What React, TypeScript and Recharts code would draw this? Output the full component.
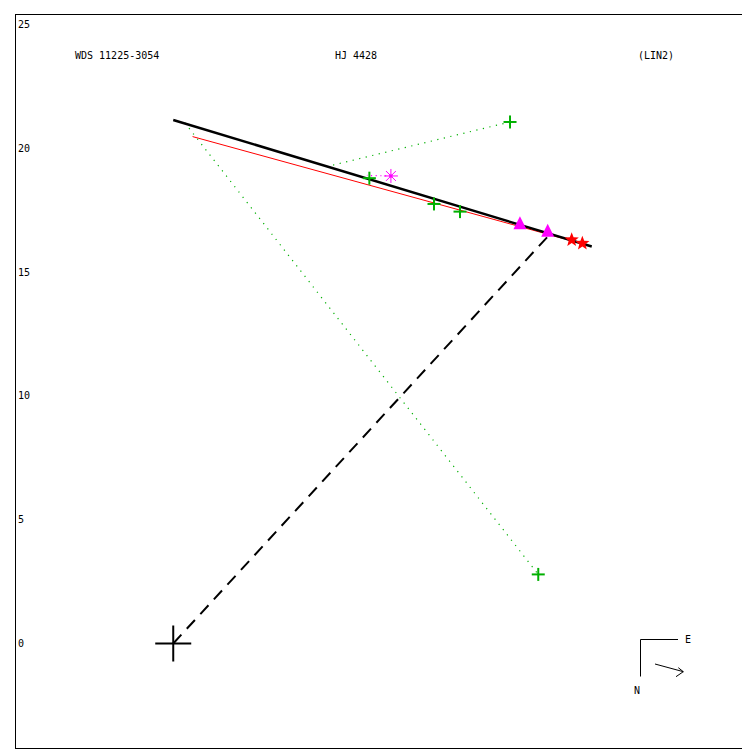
import React from "react";
import {
  ScatterChart,
  Scatter,
  XAxis,
  YAxis,
  ReferenceLine,
} from "recharts";

// ---- data (arcsec units) ----
const xDomain = [-6.39, 23.25];
const yDomain = [-4.26, 25.42];
const yTicks = [0, 5, 10, 15, 20, 25];

const orbitLine = [
  { x: 0.0, y: 21.14 },
  { x: 16.9, y: 16.03 },
];
const fitLine = [
  { x: 0.78, y: 20.47 },
  { x: 16.6, y: 16.12 },
];
const nodeLine = [
  { x: 0.0, y: 0.0 },
  { x: 15.12, y: 16.43 },
];
const residualGreen1 = [
  { x: 0.47, y: 21.02 },
  { x: 14.74, y: 2.79 },
];
const residualGreen2 = [
  { x: 13.6, y: 21.06 },
  { x: 6.33, y: 19.29 },
];
const residualMagenta = [
  { x: 8.79, y: 18.88 },
  { x: 7.82, y: 18.9 },
];

const greenCrosses = [
  { x: 7.92, y: 18.79 },
  { x: 10.53, y: 17.75 },
  { x: 11.58, y: 17.44 },
  { x: 13.6, y: 21.06 },
  { x: 14.74, y: 2.79 },
];
const magentaStars = [{ x: 8.79, y: 18.88 }];
const magentaTriangles = [
  { x: 14.0, y: 16.97 },
  { x: 15.12, y: 16.67 },
];
const redStars = [
  { x: 16.09, y: 16.3 },
  { x: 16.52, y: 16.16 },
];
const primary = [{ x: 0, y: 0 }];

const GREEN = "#00b000";
const MAGENTA = "#ff00ff";
const RED = "#ff0000";
const FONT = "'DejaVu Sans Mono', monospace";

const CrossShape = (props: any) => {
  const { cx, cy } = props;
  const r = 6.5;
  return (
    <g>
      <line x1={cx - r} y1={cy} x2={cx + r} y2={cy} stroke={GREEN} strokeWidth={2} />
      <line x1={cx} y1={cy - r} x2={cx} y2={cy + r} stroke={GREEN} strokeWidth={2} />
    </g>
  );
};

const BigCross = (props: any) => {
  const { cx, cy } = props;
  const r = 18;
  return (
    <g>
      <line x1={cx - r} y1={cy} x2={cx + r} y2={cy} stroke="#000" strokeWidth={2} />
      <line x1={cx} y1={cy - r} x2={cx} y2={cy + r} stroke="#000" strokeWidth={2} />
    </g>
  );
};

const AsteriskShape = (props: any) => {
  const { cx, cy } = props;
  const r = 7;
  const lines = [];
  for (let i = 0; i < 4; i++) {
    const a = (i * Math.PI) / 4;
    lines.push(
      <line
        key={i}
        x1={cx - r * Math.cos(a)}
        y1={cy - r * Math.sin(a)}
        x2={cx + r * Math.cos(a)}
        y2={cy + r * Math.sin(a)}
        stroke={MAGENTA}
        strokeWidth={1}
      />
    );
  }
  return (
    <g>
      {lines}
      <circle cx={cx} cy={cy} r={1.8} fill={MAGENTA} />
    </g>
  );
};

const TriangleShape = (props: any) => {
  const { cx, cy } = props;
  const h = 12;
  const w = 13;
  return (
    <polygon
      points={`${cx},${cy - h / 2 - 1} ${cx - w / 2},${cy + h / 2} ${cx + w / 2},${cy + h / 2}`}
      fill={MAGENTA}
    />
  );
};

const StarShape = (props: any) => {
  const { cx, cy } = props;
  const R = 7.5;
  const r = 3.2;
  const pts: string[] = [];
  for (let i = 0; i < 10; i++) {
    const rad = i % 2 === 0 ? R : r;
    const a = -Math.PI / 2 + (i * Math.PI) / 5;
    pts.push(`${cx + rad * Math.cos(a)},${cy + rad * Math.sin(a)}`);
  }
  return <polygon points={pts.join(" ")} fill={RED} />;
};

const YTick = (props: any) => {
  const { y, payload } = props;
  return (
    <text x={10} y={y} dy="0.35em" textAnchor="start" fontFamily={FONT} fontSize={10} fill="#000">
      {payload.value}
    </text>
  );
};

const seg = (p: { x: number; y: number }[]) =>
  [
    { x: p[0].x, y: p[0].y },
    { x: p[1].x, y: p[1].y },
  ] as any;

export default function App() {
  return (
    <div style={{ position: "relative", width: 742, height: 742 }}>
      <ScatterChart
        width={742}
        height={742}
        margin={{ top: 6, right: 1, bottom: 1, left: 7 }}
      >
        <XAxis type="number" dataKey="x" domain={xDomain} hide allowDataOverflow />
        <YAxis
          type="number"
          dataKey="y"
          domain={yDomain}
          ticks={yTicks}
          mirror
          axisLine={false}
          tickLine={false}
          tick={<YTick />}
          allowDataOverflow
          interval={0}
        />
        <ReferenceLine segment={seg(residualGreen1)} stroke={GREEN} strokeWidth={1.2} strokeDasharray="1.2 5.5" />
        <ReferenceLine segment={seg(residualGreen2)} stroke={GREEN} strokeWidth={1.2} strokeDasharray="1.2 5.5" />
        <ReferenceLine segment={seg(residualMagenta)} stroke={MAGENTA} strokeWidth={1.2} strokeDasharray="1.2 3.5" />
        <ReferenceLine segment={seg(nodeLine)} stroke="#000" strokeWidth={2} strokeDasharray="12 8" />
        <ReferenceLine segment={seg(fitLine)} stroke={RED} strokeWidth={1} />
        <ReferenceLine segment={seg(orbitLine)} stroke="#000" strokeWidth={2.5} />
        <Scatter data={greenCrosses} shape={<CrossShape />} isAnimationActive={false} />
        <Scatter data={magentaStars} shape={<AsteriskShape />} isAnimationActive={false} />
        <Scatter data={magentaTriangles} shape={<TriangleShape />} isAnimationActive={false} />
        <Scatter data={redStars} shape={<StarShape />} isAnimationActive={false} />
        <Scatter data={primary} shape={<BigCross />} isAnimationActive={false} />
      </ScatterChart>
      <svg
        width={742}
        height={742}
        style={{ position: "absolute", left: 0, top: 0, pointerEvents: "none" }}
      >
        <rect x={7.5} y={6.5} width={733} height={734} fill="none" stroke="#000" strokeWidth={1} />
        <g fontFamily={FONT} fontSize={10} fill="#000">
          <text x={67} y={51}>WDS 11225-3054</text>
          <text x={327} y={51}>HJ 4428</text>
          <text x={630} y={51}>(LIN2)</text>
          <text x={677} y={635}>E</text>
          <text x={626} y={686}>N</text>
        </g>
        <g stroke="#000" strokeWidth={1} fill="none">
          <polyline points="632.5,668.5 632.5,631.5 670,631.5" />
          <line x1={647} y1={656} x2={675.3} y2={663.7} />
          <line x1={670.3} y1={659.7} x2={675.3} y2={663.7} />
          <line x1={668} y1={668.7} x2={675.3} y2={663.7} />
        </g>
      </svg>
    </div>
  );
}
